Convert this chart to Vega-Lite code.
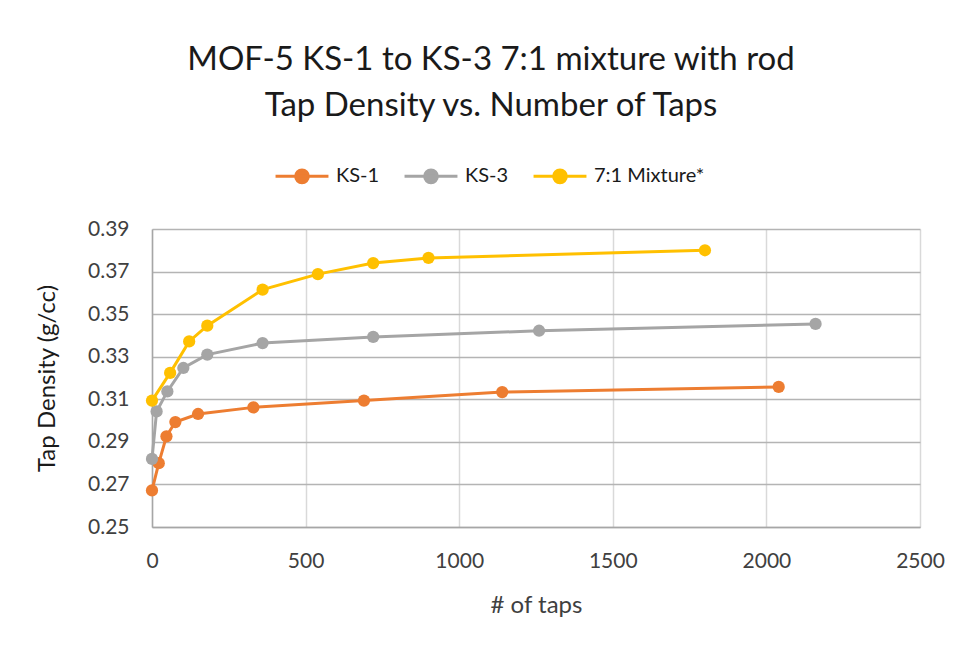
{
  "$schema": "https://vega.github.io/schema/vega-lite/v6.json",
  "width": 768,
  "height": 298,
  "autosize": {"type": "none"},
  "padding": {"left": 152, "top": 229, "right": 37, "bottom": 120},
  "background": "white",
  "title": {
    "text": ["MOF-5 KS-1 to KS-3 7:1 mixture with rod", "Tap Density vs. Number of Taps"],
    "anchor": "middle",
    "frame": "group",
    "dx": -45,
    "offset": 25,
    "fontSize": 33,
    "font": "Lato",
    "fontWeight": "normal",
    "color": "#1a1a1a",
    "lineHeight": 46
  },
  "config": {
    "view": {"stroke": null},
    "font": "Lato"
  },
  "data": {
    "values": [
      {"series": "KS-1", "taps": 0, "density": 0.2672},
      {"series": "KS-1", "taps": 22, "density": 0.2800},
      {"series": "KS-1", "taps": 47, "density": 0.2926},
      {"series": "KS-1", "taps": 76, "density": 0.2993},
      {"series": "KS-1", "taps": 150, "density": 0.3031},
      {"series": "KS-1", "taps": 330, "density": 0.3062},
      {"series": "KS-1", "taps": 690, "density": 0.3094},
      {"series": "KS-1", "taps": 1140, "density": 0.3134},
      {"series": "KS-1", "taps": 2040, "density": 0.3158},
      {"series": "KS-3", "taps": 0, "density": 0.2820},
      {"series": "KS-3", "taps": 15, "density": 0.3043},
      {"series": "KS-3", "taps": 50, "density": 0.3137},
      {"series": "KS-3", "taps": 102, "density": 0.3247},
      {"series": "KS-3", "taps": 180, "density": 0.3310},
      {"series": "KS-3", "taps": 360, "density": 0.3364},
      {"series": "KS-3", "taps": 720, "density": 0.3393},
      {"series": "KS-3", "taps": 1260, "density": 0.3422},
      {"series": "KS-3", "taps": 2160, "density": 0.3454},
      {"series": "7:1 Mixture*", "taps": 0, "density": 0.3094},
      {"series": "7:1 Mixture*", "taps": 59, "density": 0.3224},
      {"series": "7:1 Mixture*", "taps": 121, "density": 0.3372},
      {"series": "7:1 Mixture*", "taps": 180, "density": 0.3446},
      {"series": "7:1 Mixture*", "taps": 360, "density": 0.3615},
      {"series": "7:1 Mixture*", "taps": 540, "density": 0.3688},
      {"series": "7:1 Mixture*", "taps": 720, "density": 0.3740},
      {"series": "7:1 Mixture*", "taps": 900, "density": 0.3764},
      {"series": "7:1 Mixture*", "taps": 1800, "density": 0.3800}
    ]
  },
  "encoding": {
    "x": {
      "field": "taps",
      "type": "quantitative",
      "scale": {"domain": [0, 2500], "nice": false, "zero": false},
      "axis": {
        "title": "# of taps",
        "values": [0, 500, 1000, 1500, 2000, 2500],
        "format": "d",
        "grid": true,
        "gridColor": "#d9d9d9",
        "gridWidth": 1.5,
        "domainColor": "#a6a6a6",
        "domainWidth": 1.5,
        "ticks": false,
        "labelFlush": false,
        "labelFont": "Lato",
        "labelFontSize": 21,
        "labelColor": "#404040",
        "labelPadding": 23,
        "titleFont": "Lato",
        "titleFontSize": 24,
        "titleFontWeight": "normal",
        "titleColor": "#404040",
        "titlePadding": 22
      }
    },
    "y": {
      "field": "density",
      "type": "quantitative",
      "scale": {"domain": [0.25, 0.39], "nice": false, "zero": false},
      "axis": {
        "title": "Tap Density (g/cc)",
        "values": [0.25, 0.27, 0.29, 0.31, 0.33, 0.35, 0.37, 0.39],
        "format": ".2f",
        "grid": true,
        "gridColor": "#b4b4b4",
        "gridWidth": 1.5,
        "domainColor": "#a6a6a6",
        "domainWidth": 1.5,
        "ticks": false,
        "labelFlush": false,
        "labelFont": "Lato",
        "labelFontSize": 21,
        "labelColor": "#404040",
        "labelPadding": 23,
        "titleFont": "Lato",
        "titleFontSize": 24,
        "titleFontWeight": "normal",
        "titleColor": "#1a1a1a",
        "titlePadding": 28
      }
    },
    "color": {
      "field": "series",
      "type": "nominal",
      "sort": ["KS-1", "KS-3", "7:1 Mixture*"],
      "scale": {"domain": ["KS-1", "KS-3", "7:1 Mixture*"], "range": ["#ED7D31", "#A5A5A5", "#FFC000"]},
      "legend": {
        "title": null,
        "orient": "none",
        "direction": "horizontal",
        "legendX": 122,
        "legendY": -81,
        "symbolType": "M-1,0L1,0M-0.24,0A0.24,0.24 0 1,1 0.24,0A0.24,0.24 0 1,1 -0.24,0Z",
        "symbolSize": 2800,
        "symbolStrokeWidth": 3,
        "labelFont": "Lato",
        "labelFontSize": 20,
        "labelColor": "#1a1a1a",
        "columnPadding": 18,
        "labelOffset": 6
      }
    }
  },
  "layer": [
    {"mark": {"type": "line", "strokeWidth": 3}},
    {"mark": {"type": "point", "filled": true, "size": 150, "opacity": 1}}
  ]
}
